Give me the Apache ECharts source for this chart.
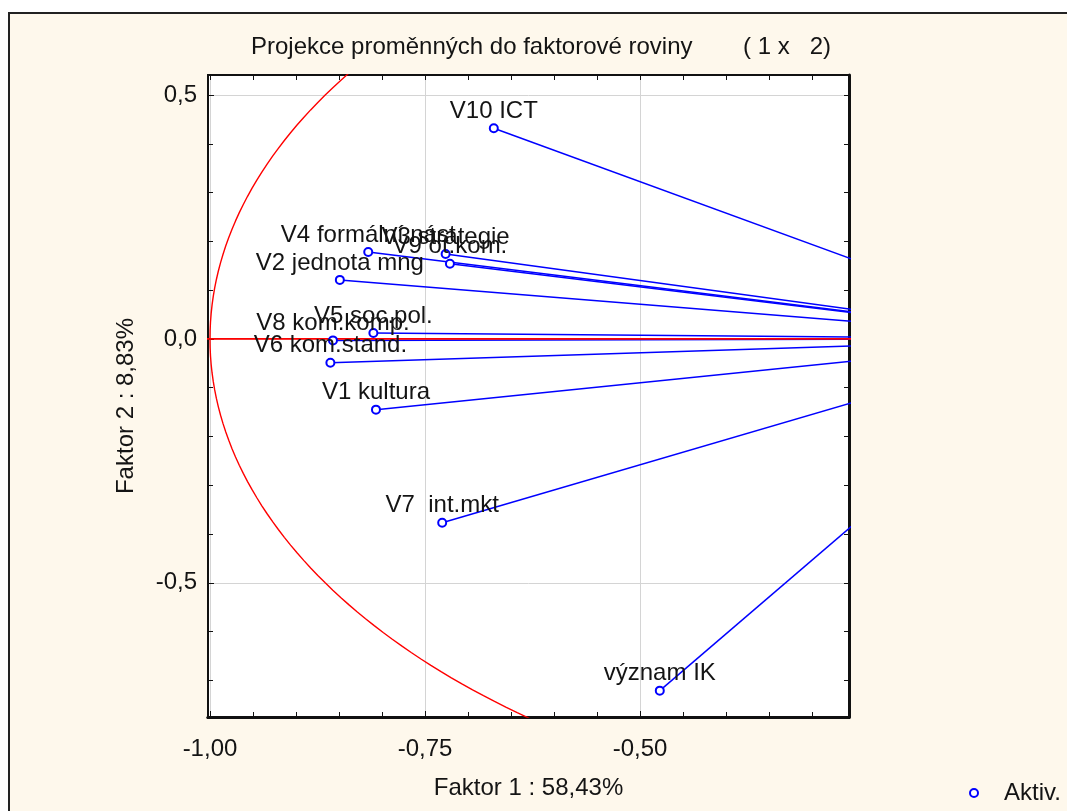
<!DOCTYPE html>
<html>
<head>
<meta charset="utf-8">
<script src="https://cdn.jsdelivr.net/npm/echarts@6/dist/echarts.min.js"></script>
<style>
  body { margin: 0; background: #fff; }
  #frame { position: absolute; left: 8px; top: 12px; width: 1059px; height: 799px;
           background: #fef8ec; border-left: 2px solid #222; border-top: 2px solid #222; box-sizing: border-box; }
  #chart { position: absolute; left: 0; top: 0; width: 1067px; height: 811px; }
</style>
</head>
<body>
<div id="frame"></div>
<div id="chart"></div>
<script>
// promenne - souradnice na faktorech 1 a 2
var names = ['V10 ICT', 'V4 formální nást', 'V3 strategie', 'V9 ot.kom.', 'V2 jednota mng',
             'V5 soc.pol.', 'V8 kom.komp.', 'V6 kom.stand.', 'V1 kultura', 'V7  int.mkt', 'význam IK'];
var faktor1 = [-0.670, -0.816, -0.726, -0.721, -0.849, -0.810, -0.857, -0.860, -0.807, -0.730, -0.477];
var faktor2 = [0.432, 0.178, 0.174, 0.154, 0.121, 0.012, -0.003, -0.049, -0.145, -0.377, -0.721];

var xMajorTicks = [-1, -0.75, -0.5];
var xMinorTicks = [-1, -0.95, -0.9, -0.85, -0.8, -0.75, -0.7, -0.65, -0.6, -0.55, -0.5, -0.45, -0.4, -0.35, -0.3];
var yMajorTicks = [-0.5, 0, 0.5];
var yMinorTicks = [-0.7, -0.6, -0.5, -0.4, -0.3, -0.2, -0.1, 0, 0.1, 0.2, 0.3, 0.4, 0.5];

var xMin = -1.0023, xMax = -0.2570, yMin = -0.775, yMax = 0.541;
var font = "'Liberation Sans', Arial, sans-serif";
var txt = '#141414';
var fs = 24;

var myChart = echarts.init(document.getElementById('chart'));

// jednotkova kruznice
var kruh = [];
for (var a = 0; a <= 360; a += 1) {
  kruh.push([Math.cos(a * Math.PI / 180), Math.sin(a * Math.PI / 180)]);
}

var series = names.map(function (n, i) {
  return {
    type: 'line', xAxisIndex: 0, yAxisIndex: 0, silent: true,
    data: [[faktor1[i], faktor2[i]], [0, 0]],
    showSymbol: false, lineStyle: { color: '#0000ff', width: 1.5 }, z: 2
  };
});
series.push({
  type: 'line', silent: true, data: kruh, showSymbol: false,
  lineStyle: { color: '#ff0000', width: 1.4 }, z: 3
});
series.push({
  type: 'line', silent: true, data: [[-1.05, 0], [0, 0]], showSymbol: false,
  lineStyle: { color: '#ff0000', width: 1.8 }, z: 4
});
series.push({
  name: 'Aktiv.', type: 'scatter', symbol: 'emptyCircle', symbolSize: 8, z: 5,
  itemStyle: { color: '#0000ff', borderColor: '#0000ff', borderWidth: 1.5, opacity: 1 },
  label: {
    show: true, position: 'top', distance: 0,
    fontFamily: font, fontSize: fs, color: txt, opacity: 1,
    formatter: function (p) { return names[p.dataIndex]; }
  },
  data: names.map(function (n, i) { return [faktor1[i], faktor2[i]]; })
});

function axisBase(pos, min, max, lineW) {
  return {
    type: 'value', position: pos, min: min, max: max,
    axisLine: { show: true, onZero: false, lineStyle: { color: '#111', width: lineW } },
    axisTick: { show: false }, axisLabel: { show: false }, splitLine: { show: false }
  };
}

var xMain = axisBase('bottom', xMin, xMax, 3);
xMain.axisLabel = {
  show: true, customValues: xMajorTicks, margin: 20, fontFamily: font, fontSize: fs, color: txt,
  formatter: function (v) { return v.toFixed(2).replace('.', ','); }
};
xMain.axisTick = { show: true, customValues: xMajorTicks, inside: true, length: 6, lineStyle: { color: '#111' } };
xMain.splitLine = { show: true, lineStyle: { color: '#d4d4d4', width: 1 } };
xMain.name = 'Faktor 1 : 58,43%';
xMain.nameLocation = 'middle';
xMain.nameGap = 59;
xMain.nameTextStyle = { fontFamily: font, fontSize: fs, color: txt };

var xMinor = axisBase('bottom', xMin, xMax, 3);
xMinor.axisTick = { show: true, customValues: xMinorTicks, inside: true, length: 5, lineStyle: { color: '#111' } };
var xTop = axisBase('top', xMin, xMax, 2);
xTop.axisTick = { show: true, customValues: xMinorTicks, inside: true, length: 5, lineStyle: { color: '#111' } };

var yMain = axisBase('left', yMin, yMax, 2);
yMain.axisLabel = {
  show: true, customValues: yMajorTicks, margin: 11, fontFamily: font, fontSize: fs, color: txt,
  formatter: function (v) { return v.toFixed(1).replace('.', ','); }
};
yMain.axisTick = { show: true, customValues: yMajorTicks, inside: true, length: 6, lineStyle: { color: '#111' } };
yMain.splitLine = { show: true, lineStyle: { color: '#d4d4d4', width: 1 } };
yMain.name = 'Faktor 2 : 8,83%';
yMain.nameLocation = 'middle';
yMain.nameRotate = 90;
yMain.nameGap = 70;
yMain.nameTextStyle = { fontFamily: font, fontSize: fs, color: txt, padding: [0, 20, 0, 0] };

var yMinor = axisBase('left', yMin, yMax, 2);
yMinor.axisTick = { show: true, customValues: yMinorTicks, inside: true, length: 5, lineStyle: { color: '#111' } };
var yRight = axisBase('right', yMin, yMax, 3);
yRight.axisTick = { show: true, customValues: yMinorTicks, inside: true, length: 5, lineStyle: { color: '#111' } };

var option = {
  animation: false,
  title: [
    { text: 'Projekce proměnných do faktorové roviny', left: 246, top: 30,
      textStyle: { fontFamily: font, fontSize: fs, fontWeight: 'normal', color: txt } },
    { text: '( 1 x   2)', left: 738, top: 30,
      textStyle: { fontFamily: font, fontSize: fs, fontWeight: 'normal', color: txt } }
  ],
  legend: {
    data: ['Aktiv.'], left: 964, top: 776, itemWidth: 10, itemHeight: 8,
    textStyle: { fontFamily: font, fontSize: fs, color: txt, padding: [0, 0, 0, 20] }
  },
  grid: { left: 208, top: 75, width: 641, height: 642, show: true, backgroundColor: '#ffffff', borderWidth: 0 },
  xAxis: [xMain, xMinor, xTop],
  yAxis: [yMain, yMinor, yRight],
  series: series
};

myChart.setOption(option);
</script>
</body>
</html>
